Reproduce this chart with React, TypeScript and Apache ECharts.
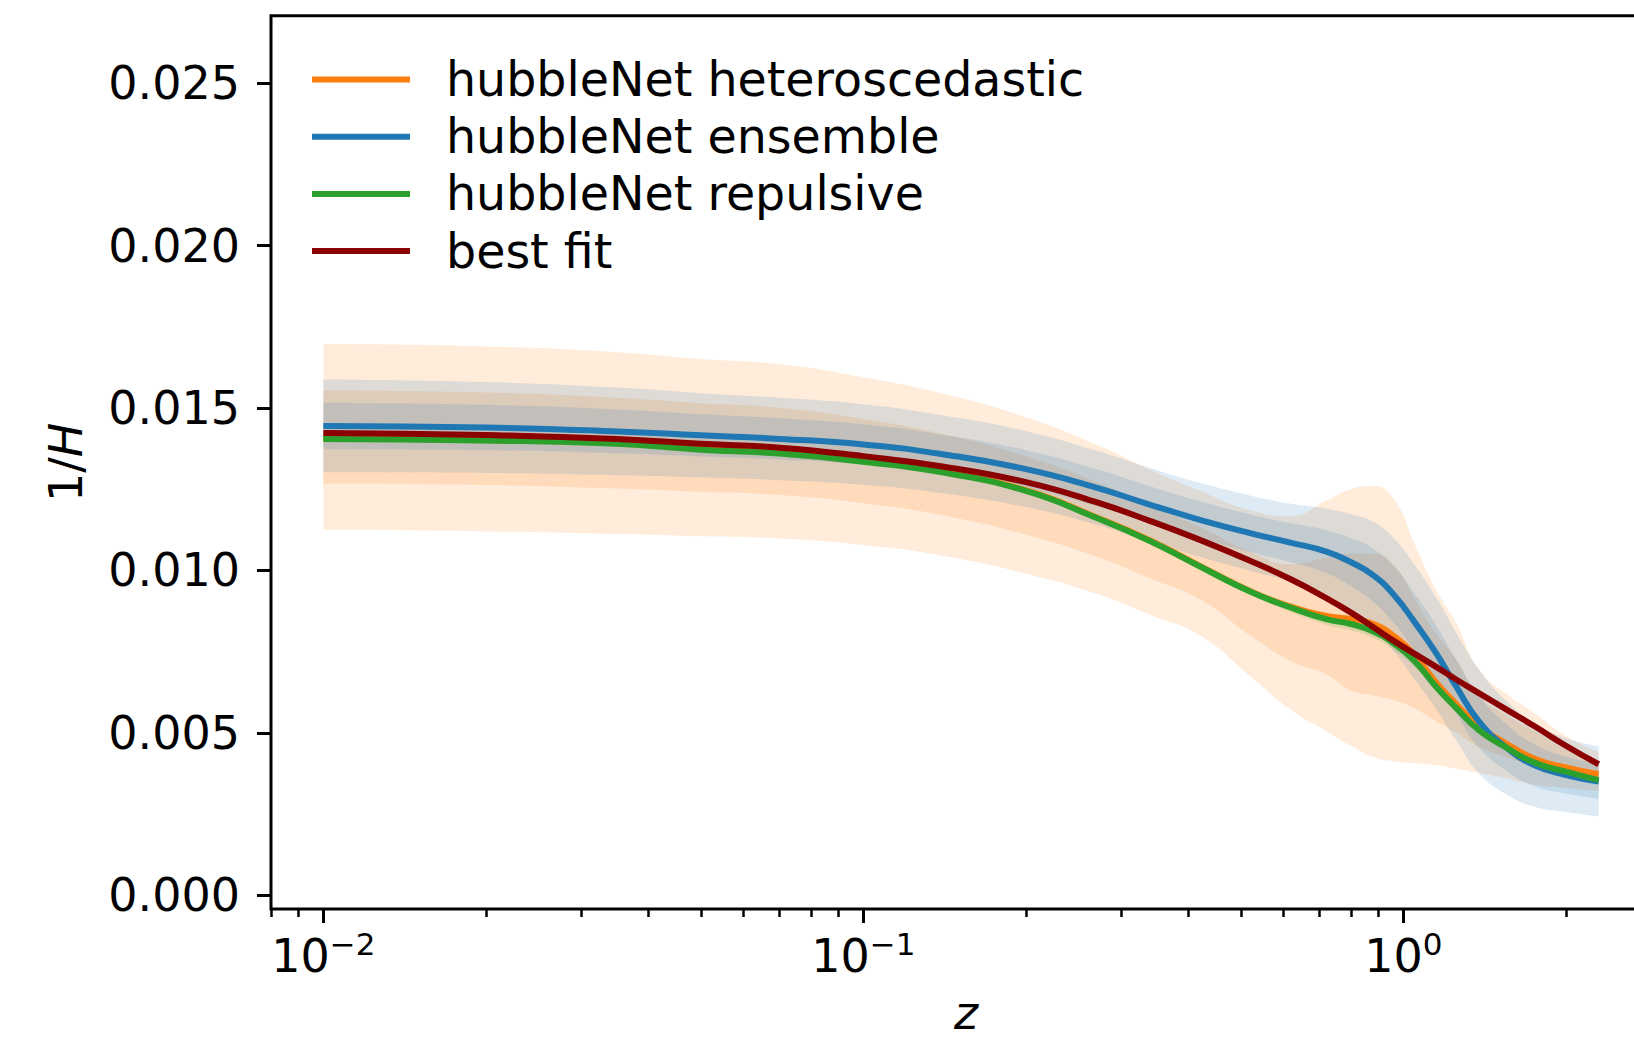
import React, { useEffect, useRef } from "react";
import * as echarts from "echarts";

// Redshift samples shared by every curve
const Z = [0.01, 0.02, 0.035, 0.05, 0.07, 0.1, 0.14, 0.2, 0.27, 0.34, 0.42, 0.52, 0.62, 0.72, 0.8, 0.88, 0.96, 1.05, 1.15, 1.25, 1.38, 1.55, 1.75, 2.0, 2.3];

// 1/H predictions
const HETERO_MEAN = [14.08e-3, 14.02e-3, 13.92e-3, 13.74e-3, 13.62e-3, 13.37e-3, 13.04e-3, 12.47e-3, 11.64e-3, 10.92e-3, 10.14e-3, 9.37e-3, 8.88e-3, 8.6e-3, 8.5e-3, 8.35e-3, 7.98e-3, 7.38e-3, 6.55e-3, 5.9e-3, 5.2e-3, 4.67e-3, 4.2e-3, 3.93e-3, 3.72e-3];
const ENSEMBLE_MEAN = [14.45e-3, 14.4e-3, 14.28e-3, 14.16e-3, 14.05e-3, 13.88e-3, 13.58e-3, 13.12e-3, 12.55e-3, 12.02e-3, 11.56e-3, 11.15e-3, 10.85e-3, 10.58e-3, 10.25e-3, 9.85e-3, 9.25e-3, 8.4e-3, 7.45e-3, 6.45e-3, 5.35e-3, 4.55e-3, 4.0e-3, 3.7e-3, 3.5e-3];
const REPULSIVE_MEAN = [14.05e-3, 14.0e-3, 13.9e-3, 13.72e-3, 13.6e-3, 13.35e-3, 13.02e-3, 12.45e-3, 11.62e-3, 10.9e-3, 10.12e-3, 9.35e-3, 8.85e-3, 8.5e-3, 8.35e-3, 8.12e-3, 7.75e-3, 7.2e-3, 6.42e-3, 5.78e-3, 5.08e-3, 4.55e-3, 4.08e-3, 3.8e-3, 3.54e-3];
const BEST_FIT = [14.23e-3, 14.17e-3, 14.05e-3, 13.9e-3, 13.78e-3, 13.52e-3, 13.2e-3, 12.72e-3, 12.1e-3, 11.52e-3, 10.94e-3, 10.3e-3, 9.72e-3, 9.15e-3, 8.7e-3, 8.25e-3, 7.83e-3, 7.43e-3, 7.03e-3, 6.65e-3, 6.22e-3, 5.72e-3, 5.2e-3, 4.6e-3, 4.03e-3];

// Heteroscedastic uncertainty envelopes (outer = 2 sigma, inner = 1 sigma)
const HETERO_HI2 = [16.97e-3, 16.9e-3, 16.72e-3, 16.51e-3, 16.35e-3, 15.95e-3, 15.45e-3, 14.72e-3, 13.88e-3, 13.1e-3, 12.45e-3, 11.85e-3, 11.68e-3, 12.15e-3, 12.5e-3, 12.6e-3, 12.2e-3, 10.8e-3, 9.4e-3, 8.4e-3, 6.95e-3, 6.2e-3, 5.6e-3, 4.9e-3, 4.4e-3];
const HETERO_LO2 = [11.25e-3, 11.2e-3, 11.12e-3, 11.05e-3, 10.98e-3, 10.78e-3, 10.45e-3, 9.9e-3, 9.28e-3, 8.63e-3, 8.0e-3, 6.75e-3, 5.7e-3, 5.05e-3, 4.6e-3, 4.25e-3, 4.12e-3, 4.06e-3, 4.0e-3, 3.9e-3, 3.76e-3, 3.6e-3, 3.4e-3, 3.3e-3, 3.2e-3];
const HETERO_HI1 = [15.54e-3, 15.48e-3, 15.32e-3, 15.15e-3, 15.01e-3, 14.66e-3, 14.2e-3, 13.52e-3, 12.73e-3, 11.98e-3, 11.34e-3, 10.58e-3, 10.19e-3, 10.38e-3, 10.52e-3, 10.51e-3, 10.18e-3, 9.12e-3, 8.05e-3, 7.28e-3, 6.15e-3, 5.55e-3, 5.05e-3, 4.5e-3, 4.1e-3];
const HETERO_LO1 = [12.68e-3, 12.63e-3, 12.52e-3, 12.42e-3, 12.32e-3, 12.07e-3, 11.7e-3, 11.1e-3, 10.43e-3, 9.75e-3, 9.11e-3, 8.0e-3, 7.2e-3, 6.8e-3, 6.3e-3, 6.15e-3, 6.0e-3, 5.75e-3, 5.35e-3, 5.02e-3, 4.56e-3, 4.25e-3, 3.95e-3, 3.7e-3, 3.5e-3];

// One-sigma spreads of the ensemble and repulsive models
const ENSEMBLE_SIGMA = [0.715e-3, 0.7e-3, 0.675e-3, 0.65e-3, 0.635e-3, 0.62e-3, 0.6e-3, 0.585e-3, 0.57e-3, 0.565e-3, 0.57e-3, 0.58e-3, 0.6e-3, 0.66e-3, 0.74e-3, 0.82e-3, 0.87e-3, 0.88e-3, 0.86e-3, 0.83e-3, 0.8e-3, 0.72e-3, 0.64e-3, 0.57e-3, 0.54e-3];
const REPULSIVE_SIGMA = [0.05e-3, 0.05e-3, 0.05e-3, 0.05e-3, 0.05e-3, 0.05e-3, 0.05e-3, 0.05e-3, 0.05e-3, 0.05e-3, 0.05e-3, 0.05e-3, 0.07e-3, 0.09e-3, 0.1e-3, 0.1e-3, 0.1e-3, 0.09e-3, 0.08e-3, 0.07e-3, 0.06e-3, 0.06e-3, 0.06e-3, 0.06e-3, 0.06e-3];

// Axis ticks
const Y_TICKS = [0, 0.005, 0.01, 0.015, 0.02, 0.025];
const X_MAJOR = [0.01, 0.1, 1];
const X_MAJOR_EXP = ["\u22122", "\u22121", "0"];
const X_MINOR = [0.008, 0.009, 0.02, 0.03, 0.04, 0.05, 0.06, 0.07, 0.08, 0.09, 0.2, 0.3, 0.4, 0.5, 0.6, 0.7, 0.8, 0.9, 2, 3];

const LABELS = ["hubbleNet heteroscedastic", "hubbleNet ensemble", "hubbleNet repulsive", "best fit"];

const ORANGE = "#ff7f0e";
const BLUE = "#1f77b4";
const GREEN = "#2ca02c";
const DARKRED = "#8b0000";
const FONT = "'DejaVu Sans', sans-serif";
const FS = 46;

const X_MIN = Math.log10(0.008);
const X_MAX = Math.log10(3);

const LX = Z.map((z) => Math.log10(z));
const pts = (vals: number[]) => LX.map((x, i) => [x, vals[i]]);

// A shaded band: an invisible lower edge plus a stacked (upper - lower) area.
// The value column comes first so that the stack is applied to y.
function band(id: string, lo: number[], hi: number[], color: string, opacity: number) {
  const common = {
    type: "line",
    stack: id,
    smooth: true,
    showSymbol: false,
    silent: true,
    emphasis: { disabled: true },
    encode: { x: 1, y: 0 },
    lineStyle: { width: 0, opacity: 0 },
  };
  return [
    { ...common, name: id + " lower", data: LX.map((x, i) => [lo[i], x]) },
    {
      ...common,
      name: id + " upper",
      data: LX.map((x, i) => [hi[i] - lo[i], x]),
      areaStyle: { color, opacity },
    },
  ];
}

function line(name: string, vals: number[], color: string) {
  return {
    type: "line",
    name,
    data: pts(vals),
    smooth: true,
    showSymbol: false,
    lineStyle: { width: 6, color },
    itemStyle: { color },
    emphasis: { disabled: true },
  };
}

export default function App() {
  const ref = useRef<HTMLDivElement>(null);

  useEffect(() => {
    document.body.style.margin = "0";
    const chart = echarts.init(ref.current!, undefined, { renderer: "svg" });

    const ensLo2 = ENSEMBLE_MEAN.map((m, i) => m - 2 * ENSEMBLE_SIGMA[i]);
    const ensHi2 = ENSEMBLE_MEAN.map((m, i) => m + 2 * ENSEMBLE_SIGMA[i]);
    const ensLo1 = ENSEMBLE_MEAN.map((m, i) => m - ENSEMBLE_SIGMA[i]);
    const ensHi1 = ENSEMBLE_MEAN.map((m, i) => m + ENSEMBLE_SIGMA[i]);
    const repLo2 = REPULSIVE_MEAN.map((m, i) => m - 2 * REPULSIVE_SIGMA[i]);
    const repHi2 = REPULSIVE_MEAN.map((m, i) => m + 2 * REPULSIVE_SIGMA[i]);
    const repLo1 = REPULSIVE_MEAN.map((m, i) => m - REPULSIVE_SIGMA[i]);
    const repHi1 = REPULSIVE_MEAN.map((m, i) => m + REPULSIVE_SIGMA[i]);

    const tickLine = { color: "#000", width: 3 };

    chart.setOption({
      animation: false,
      textStyle: { fontFamily: FONT, color: "#000" },
      grid: {
        left: 271,
        right: -27,
        top: 15.7,
        bottom: 132,
        containLabel: false,
        outerBoundsMode: "none",
        show: true,
        borderColor: "#000",
        borderWidth: 3,
        backgroundColor: "transparent",
      },
      legend: {
        orient: "vertical",
        left: 312,
        top: 54.5,
        padding: 0,
        icon: "rect",
        itemWidth: 98,
        itemHeight: 6,
        itemGap: 7.2,
        selectedMode: false,
        data: LABELS,
        textStyle: {
          fontFamily: FONT,
          fontSize: 47.5,
          color: "#000",
          lineHeight: 50,
          padding: [0, 0, 0, 31],
        },
      },
      xAxis: [
        {
          type: "value",
          min: X_MIN,
          max: X_MAX,
          position: "bottom",
          axisLine: { show: false, onZero: false },
          splitLine: { show: false },
          axisTick: { show: true, length: 14, lineStyle: tickLine, customValues: X_MAJOR.map(Math.log10) },
          axisLabel: {
            customValues: X_MAJOR.map(Math.log10),
            margin: 19,
            fontFamily: FONT,
            fontSize: FS,
            color: "#000",
            formatter: (v: number) => {
              const k = X_MAJOR.findIndex((t) => Math.abs(Math.log10(t) - v) < 1e-6);
              return "10{sup|" + X_MAJOR_EXP[k] + "}";
            },
            rich: {
              sup: { fontFamily: FONT, fontSize: 31, color: "#000", padding: [0, 0, 25, 0] },
            },
          },
          name: "z",
          nameLocation: "middle",
          nameGap: 84,
          nameTextStyle: { fontFamily: FONT, fontSize: FS, lineHeight: 40, fontStyle: "italic", color: "#000" },
        },
        {
          type: "value",
          min: X_MIN,
          max: X_MAX,
          position: "bottom",
          axisLine: { show: false, onZero: false },
          splitLine: { show: false },
          axisLabel: { show: false },
          axisTick: { show: true, length: 8, lineStyle: { color: "#000", width: 2.5 }, customValues: X_MINOR.map(Math.log10) },
        },
      ],
      yAxis: {
        type: "value",
        min: -0.428e-3,
        max: 27.085e-3,
        axisLine: { show: false, onZero: false },
        splitLine: { show: false },
        axisTick: { show: true, length: 14, lineStyle: tickLine, customValues: Y_TICKS },
        axisLabel: {
          customValues: Y_TICKS,
          margin: 31,
          fontFamily: FONT,
          fontSize: FS,
          color: "#000",
          formatter: (v: number) => v.toFixed(3),
        },
        name: "1/{i|H}",
        nameLocation: "middle",
        nameRotate: 90,
        nameGap: 182,
        nameTextStyle: {
          fontFamily: FONT,
          fontSize: FS,
          color: "#000",
          rich: { i: { fontFamily: FONT, fontSize: FS, fontStyle: "italic", color: "#000" } },
        },
      },
      series: [
        ...band("heteroscedastic 2s", HETERO_LO2, HETERO_HI2, ORANGE, 0.15),
        ...band("heteroscedastic 1s", HETERO_LO1, HETERO_HI1, ORANGE, 0.15),
        ...band("ensemble 2s", ensLo2, ensHi2, BLUE, 0.15),
        ...band("ensemble 1s", ensLo1, ensHi1, BLUE, 0.15),
        ...band("repulsive 2s", repLo2, repHi2, GREEN, 0.15),
        ...band("repulsive 1s", repLo1, repHi1, GREEN, 0.15),
        line(LABELS[0], HETERO_MEAN, ORANGE),
        line(LABELS[1], ENSEMBLE_MEAN, BLUE),
        line(LABELS[2], REPULSIVE_MEAN, GREEN),
        line(LABELS[3], BEST_FIT, DARKRED),
      ],
    });

    return () => chart.dispose();
  }, []);

  return (
    <div
      ref={ref}
      style={{ position: "fixed", left: 0, top: 0, width: 1634, height: 1041, background: "#fff" }}
    />
  );
}
